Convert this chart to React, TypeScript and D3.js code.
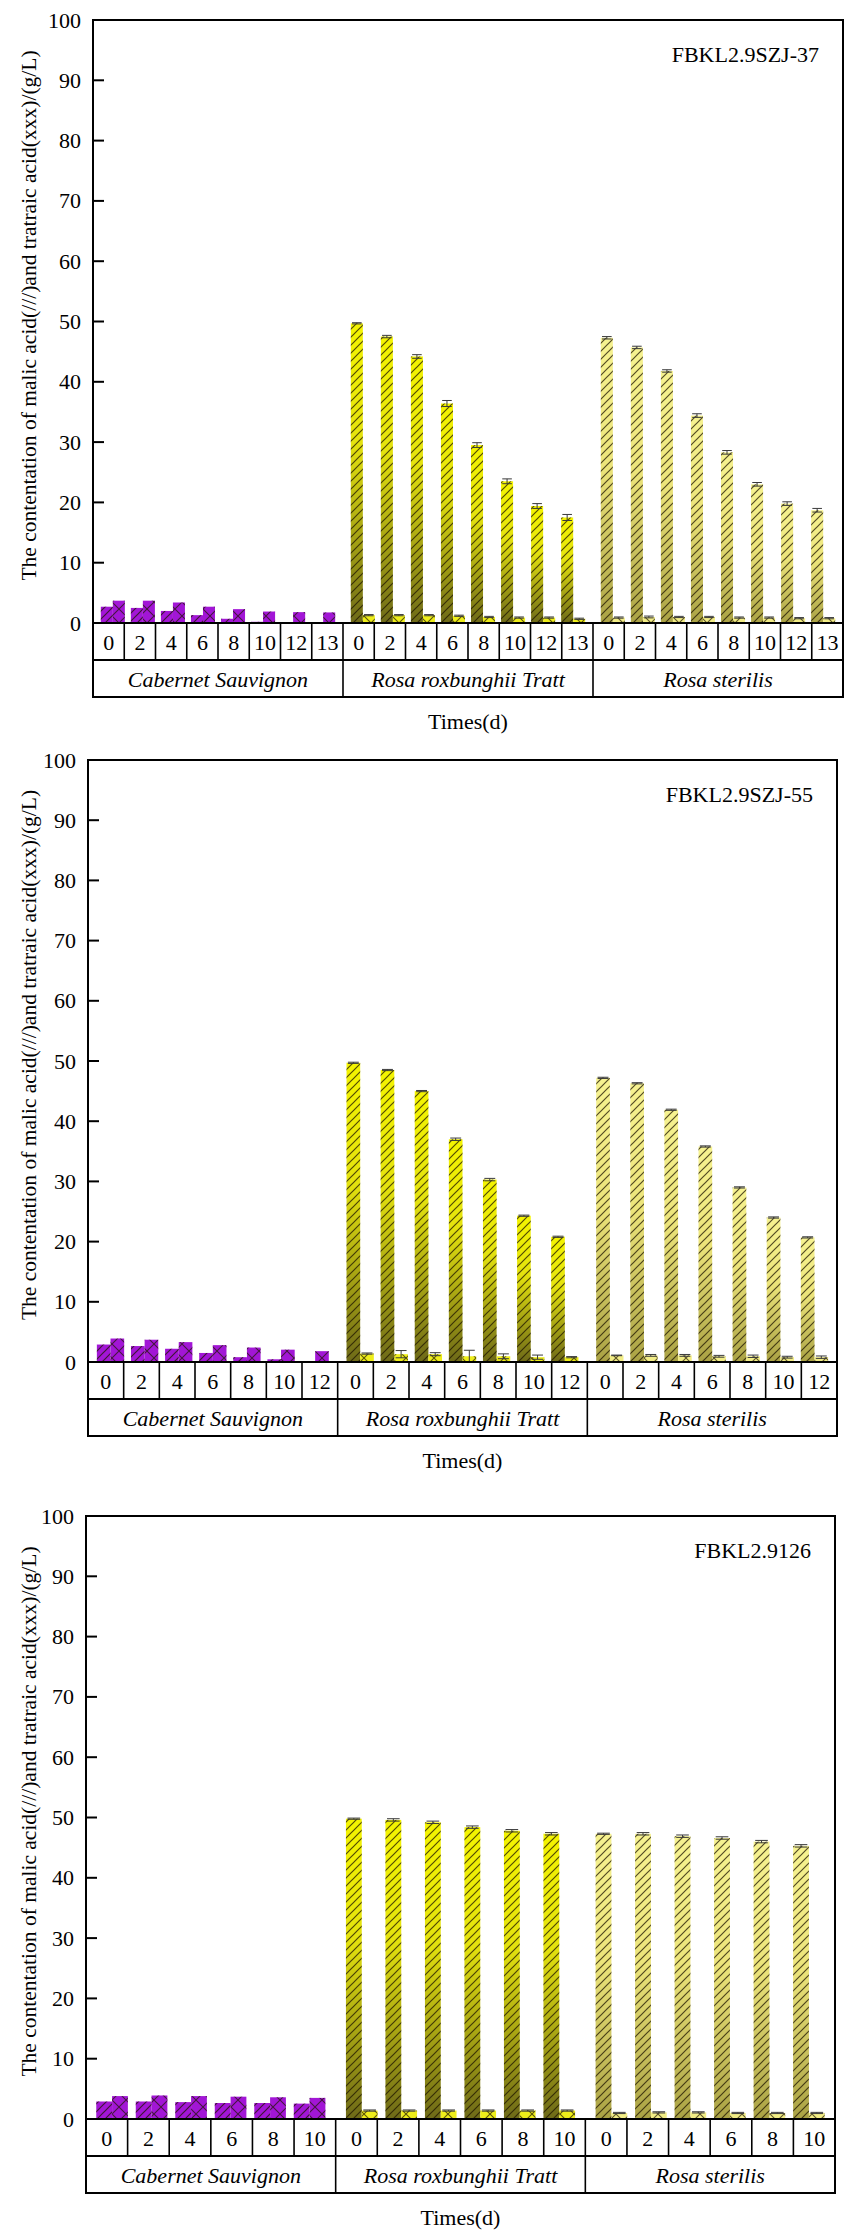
import { FC, useEffect, useRef } from "react";
import * as d3 from "d3";

const groups = ["Cabernet Sauvignon", "Rosa roxbunghii Tratt", "Rosa sterilis"];
const strainLabels = ["FBKL2.9SZJ-37", "FBKL2.9SZJ-55", "FBKL2.9126"];
const yTicks = [0, 10, 20, 30, 40, 50, 60, 70, 80, 90, 100];

const days37 = ["0", "2", "4", "6", "8", "10", "12", "13"];
const days55 = ["0", "2", "4", "6", "8", "10", "12"];
const days126 = ["0", "2", "4", "6", "8", "10"];

// malic acid (///) - one row per group
const malic37 = [
  [2.7, 2.5, 2.0, 1.3, 0.7, 0.2, 0, 0],
  [49.7, 47.5, 44.2, 36.4, 29.5, 23.5, 19.4, 17.5],
  [47.3, 45.7, 41.8, 34.4, 28.3, 23.0, 19.8, 18.7],
];
const malicErr37 = [
  [0, 0, 0, 0, 0, 0, 0, 0],
  [0.1, 0.2, 0.3, 0.5, 0.4, 0.4, 0.4, 0.5],
  [0.2, 0.2, 0.2, 0.3, 0.3, 0.3, 0.3, 0.3],
];
// tartaric acid (xxx)
const tartaric37 = [
  [3.7, 3.7, 3.4, 2.7, 2.3, 1.9, 1.8, 1.75],
  [1.3, 1.3, 1.3, 1.2, 1.0, 0.9, 0.9, 0.7],
  [0.9, 1.0, 1.0, 1.0, 0.9, 0.9, 0.8, 0.8],
];
const tartaricErr37 = [
  [0, 0, 0, 0, 0, 0, 0, 0],
  [0.1, 0.1, 0.1, 0.1, 0.1, 0.1, 0.1, 0.1],
  [0.1, 0.15, 0.1, 0.1, 0.1, 0.1, 0.1, 0.1],
];

const malic55 = [
  [2.9, 2.65, 2.2, 1.5, 0.8, 0.45, 0],
  [49.7, 48.5, 45.0, 37.0, 30.3, 24.3, 20.8],
  [47.2, 46.3, 41.9, 35.8, 29.0, 24.0, 20.7],
];
const malicErr55 = [
  [0, 0, 0, 0, 0, 0, 0],
  [0.1, 0.1, 0.1, 0.2, 0.2, 0.1, 0.1],
  [0.1, 0.1, 0.1, 0.1, 0.1, 0.1, 0.1],
];
const tartaric55 = [
  [3.9, 3.7, 3.3, 2.8, 2.4, 2.05, 1.8],
  [1.4, 1.3, 1.3, 0.95, 0.95, 0.8, 0.8],
  [1.1, 1.1, 1.1, 0.95, 0.95, 0.8, 0.8],
];
const tartaricErr55 = [
  [0, 0, 0, 0, 0, 0, 0],
  [0.1, 0.6, 0.25, 1.0, 0.4, 0.35, 0.1],
  [0.05, 0.15, 0.15, 0.15, 0.2, 0.15, 0.2],
];

const malic126 = [
  [2.9, 2.9, 2.8, 2.65, 2.65, 2.55],
  [49.8, 49.6, 49.2, 48.4, 47.8, 47.3],
  [47.3, 47.3, 46.9, 46.6, 46.0, 45.3],
];
const malicErr126 = [
  [0, 0, 0, 0, 0, 0],
  [0.1, 0.2, 0.2, 0.2, 0.2, 0.2],
  [0.1, 0.2, 0.2, 0.2, 0.2, 0.2],
];
const tartaric126 = [
  [3.8, 3.9, 3.8, 3.7, 3.6, 3.5],
  [1.4, 1.4, 1.4, 1.4, 1.4, 1.4],
  [1.0, 1.1, 1.1, 1.0, 1.0, 1.0],
];
const tartaricErr126 = [
  [0, 0, 0, 0, 0, 0],
  [0.1, 0.1, 0.1, 0.1, 0.1, 0.1],
  [0.1, 0.1, 0.1, 0.1, 0.1, 0.1],
];

const W = 851;
const H = 2232;
const FONT = "'Liberation Serif', 'Times New Roman', serif";
const yTitle = "The contentation of malic acid(///)and tratraic acid(xxx)/(g/L)";

const panels = [
  { label: strainLabels[0], days: days37, malic: malic37, malicErr: malicErr37, tart: tartaric37, tartErr: tartaricErr37, left: 93, right: 843, top: 20, bottom: 623 },
  { label: strainLabels[1], days: days55, malic: malic55, malicErr: malicErr55, tart: tartaric55, tartErr: tartaricErr55, left: 88, right: 837, top: 760, bottom: 1362 },
  { label: strainLabels[2], days: days126, malic: malic126, malicErr: malicErr126, tart: tartaric126, tartErr: tartaricErr126, left: 86, right: 835, top: 1516, bottom: 2119 },
];

const malicFill = ["#a216d6", "url(#roxGrad)", "url(#sterGrad)"];
const tartFill = ["#a216d6", "#eeee1a", "#f2ed86"];

const App: FC = () => {
  const ref = useRef<SVGSVGElement>(null);

  const runChart = () => {
    const svg = d3.select(ref.current);
    svg.selectAll("*").remove();

    const defs = svg.append("defs");
    const rox = defs.append("linearGradient").attr("id", "roxGrad").attr("x1", 0).attr("y1", 0).attr("x2", 0).attr("y2", 1);
    rox.append("stop").attr("offset", "0").attr("stop-color", "#f4f400");
    rox.append("stop").attr("offset", "0.4").attr("stop-color", "#e4e20e");
    rox.append("stop").attr("offset", "1").attr("stop-color", "#6e6a18");
    const ster = defs.append("linearGradient").attr("id", "sterGrad").attr("x1", 0).attr("y1", 0).attr("x2", 0).attr("y2", 1);
    ster.append("stop").attr("offset", "0").attr("stop-color", "#f6f290");
    ster.append("stop").attr("offset", "0.45").attr("stop-color", "#ece47a");
    ster.append("stop").attr("offset", "1").attr("stop-color", "#aaa244");

    const hatch = defs.append("pattern").attr("id", "hatchMalic").attr("patternUnits", "userSpaceOnUse").attr("width", 8).attr("height", 8);
    hatch.append("path").attr("d", "M-1,9 L9,-1 M-1,1 L1,-1 M7,9 L9,7").attr("stroke", "rgba(30,20,0,0.75)").attr("stroke-width", 1.2);
    const cross = defs.append("pattern").attr("id", "hatchTart").attr("patternUnits", "userSpaceOnUse").attr("width", 14).attr("height", 14);
    cross.append("path").attr("d", "M0,14 L14,0 M0,0 L14,14").attr("stroke", "rgba(30,20,0,0.7)").attr("stroke-width", 1.1);

    panels.forEach((p) => {
      const g = svg.append("g");
      const y = d3.scaleLinear().domain([0, 100]).range([p.bottom, p.top]);
      const xg = d3.scaleBand().domain(groups).range([p.left, p.right]);
      const xt = d3.scalePoint().domain(p.days).range([0, xg.bandwidth()]).padding(0.66);
      const xc = d3.scaleBand().domain(p.days).range([0, xg.bandwidth()]);
      const barW = xt.step() * 0.4;

      // bars
      groups.forEach((grp, gi) => {
        const gx = xg(grp)!;
        const bars = p.days.flatMap((d, i) => [
          { x: gx + xt(d)! - barW, v: p.malic[gi][i], e: p.malicErr[gi][i], fill: malicFill[gi], hatch: "url(#hatchMalic)" },
          { x: gx + xt(d)!, v: p.tart[gi][i], e: p.tartErr[gi][i], fill: tartFill[gi], hatch: "url(#hatchTart)" },
        ]).filter((b) => b.v > 0);

        g.append("g").selectAll("rect").data(bars).join("rect")
          .attr("x", (b) => b.x).attr("width", barW)
          .attr("y", (b) => y(b.v)).attr("height", (b) => y(0) - y(b.v))
          .attr("fill", (b) => b.fill);
        g.append("g").selectAll("rect").data(bars).join("rect")
          .attr("x", (b) => b.x).attr("width", barW)
          .attr("y", (b) => y(b.v)).attr("height", (b) => y(0) - y(b.v))
          .attr("fill", (b) => b.hatch);

        const errs = bars.filter((b) => b.e > 0);
        const eg = g.append("g").attr("stroke", "#3a3a3a").attr("stroke-width", 1);
        eg.selectAll("line.v").data(errs).join("line").attr("class", "v")
          .attr("x1", (b) => b.x + barW / 2).attr("x2", (b) => b.x + barW / 2)
          .attr("y1", (b) => y(b.v - b.e)).attr("y2", (b) => y(b.v + b.e));
        eg.selectAll("line.t").data(errs).join("line").attr("class", "t")
          .attr("x1", (b) => b.x + barW * 0.1).attr("x2", (b) => b.x + barW * 0.9)
          .attr("y1", (b) => y(b.v + b.e)).attr("y2", (b) => y(b.v + b.e));
        eg.selectAll("line.b").data(errs).join("line").attr("class", "b")
          .attr("x1", (b) => b.x + barW * 0.1).attr("x2", (b) => b.x + barW * 0.9)
          .attr("y1", (b) => y(b.v - b.e)).attr("y2", (b) => y(b.v - b.e));
      });

      // frame
      g.append("rect")
        .attr("x", p.left).attr("y", p.top)
        .attr("width", p.right - p.left).attr("height", p.bottom - p.top)
        .attr("fill", "none").attr("stroke", "#000").attr("stroke-width", 2);

      // y axis ticks
      g.append("g").selectAll("line").data(yTicks).join("line")
        .attr("x1", p.left).attr("x2", p.left + 11)
        .attr("y1", (d) => y(d)).attr("y2", (d) => y(d))
        .attr("stroke", "#000").attr("stroke-width", 2);
      g.append("g").selectAll("text").data(yTicks).join("text")
        .attr("x", p.left - 12).attr("y", (d) => y(d))
        .attr("text-anchor", "end").attr("dominant-baseline", "central")
        .attr("font-family", FONT).attr("font-size", 22)
        .text((d) => d);

      g.append("text")
        .attr("transform", `translate(29,${(p.top + p.bottom) / 2 - 6}) rotate(-90)`)
        .attr("text-anchor", "middle").attr("dominant-baseline", "central")
        .attr("font-family", FONT).attr("font-size", 21.5)
        .text(yTitle);

      g.append("text")
        .attr("x", p.right - 24).attr("y", p.top + 42)
        .attr("text-anchor", "end")
        .attr("font-family", FONT).attr("font-size", 22)
        .text(p.label);

      // category table under the axis
      const rowH = 37;
      const t = g.append("g").attr("stroke", "#000");
      t.append("rect")
        .attr("x", p.left).attr("y", p.bottom)
        .attr("width", p.right - p.left).attr("height", rowH * 2)
        .attr("fill", "none").attr("stroke-width", 2);
      t.append("line")
        .attr("x1", p.left).attr("x2", p.right)
        .attr("y1", p.bottom + rowH).attr("y2", p.bottom + rowH)
        .attr("stroke-width", 2);
      groups.forEach((grp, gi) => {
        const gx = xg(grp)!;
        if (gi > 0) {
          t.append("line").attr("x1", gx).attr("x2", gx)
            .attr("y1", p.bottom).attr("y2", p.bottom + rowH * 2).attr("stroke-width", 1.6);
        }
        t.append("g").selectAll("line").data(p.days.slice(1)).join("line")
          .attr("x1", (d) => gx + xc(d)!).attr("x2", (d) => gx + xc(d)!)
          .attr("y1", p.bottom).attr("y2", p.bottom + rowH)
          .attr("stroke-width", 1.6);
        g.append("g").selectAll("text").data(p.days).join("text")
          .attr("x", (d) => gx + xc(d)! + xc.bandwidth() / 2)
          .attr("y", p.bottom + rowH / 2 + 1)
          .attr("text-anchor", "middle").attr("dominant-baseline", "central")
          .attr("font-family", FONT).attr("font-size", 22)
          .text((d) => d);
        g.append("text")
          .attr("x", gx + xg.bandwidth() / 2).attr("y", p.bottom + rowH * 1.5 + 1)
          .attr("text-anchor", "middle").attr("dominant-baseline", "central")
          .attr("font-family", FONT).attr("font-size", 22).attr("font-style", "italic")
          .text(grp);
      });

      g.append("text")
        .attr("x", (p.left + p.right) / 2).attr("y", p.bottom + 98)
        .attr("text-anchor", "middle").attr("dominant-baseline", "central")
        .attr("font-family", FONT).attr("font-size", 22)
        .text("Times(d)");
    });
  };

  useEffect(() => {
    runChart();
  }, []);

  return (
    <div style={{ position: "absolute", left: 0, top: 0, background: "#fff" }}>
      <svg ref={ref} width={W} height={H} style={{ display: "block" }} />
    </div>
  );
};

export default App;
